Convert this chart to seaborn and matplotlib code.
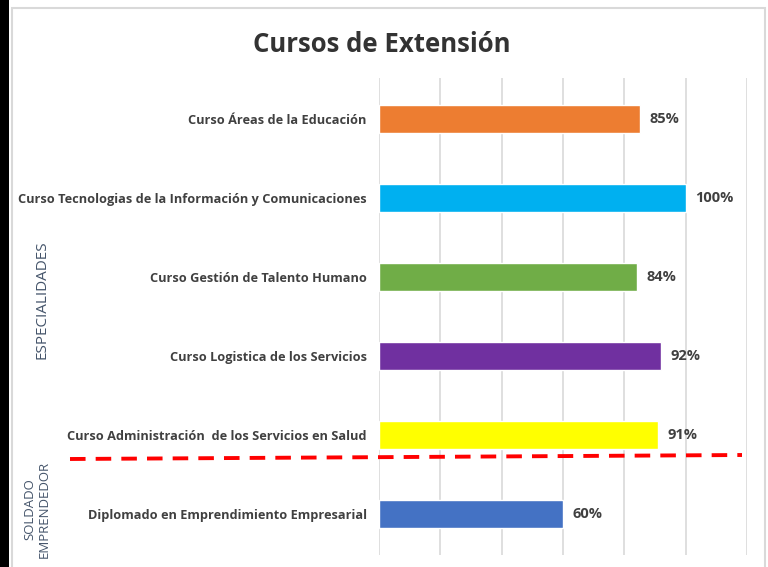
import matplotlib
matplotlib.use("Agg")
import matplotlib.pyplot as plt
import seaborn as sns
import pandas as pd
from matplotlib.lines import Line2D
from matplotlib.patches import Rectangle

# Data
cursos = [
    "Curso Áreas de la Educación",
    "Curso Tecnologias de la Información y Comunicaciones",
    "Curso Gestión de Talento Humano",
    "Curso Logistica de los Servicios",
    "Curso Administración  de los Servicios en Salud",
    "Diplomado en Emprendimiento Empresarial",
]
porcentajes = [85, 100, 84, 92, 91, 60]
colores = ["#ED7D31", "#00B0F0", "#70AD47", "#7030A0", "#FFFF00", "#4472C4"]

df = pd.DataFrame({"curso": cursos, "pct": porcentajes})

sns.set_theme(style="white")
plt.rcParams["font.family"] = ["Open Sans", "DejaVu Sans"]

fig = plt.figure(figsize=(7.68, 5.67), dpi=100)
fig.patch.set_facecolor("white")

# outer frame: black strip on the left and light gray chart border
fig.patches.append(Rectangle((0, 0), 9 / 768, 1, transform=fig.transFigure,
                             facecolor="black", edgecolor="none", zorder=0))
fig.patches.append(Rectangle((12 / 768, -0.05), (765 - 12) / 768, 1.05 - 8 / 567,
                             transform=fig.transFigure, facecolor="none",
                             edgecolor="#D9D9D9", linewidth=1.5, zorder=0))

ax = fig.add_axes([379 / 768, 1 - 555 / 567, (747 - 379) / 768, (555 - 78) / 567])
sns.barplot(data=df, x="pct", y="curso", hue="curso", palette=colores,
            legend=False, width=0.36, ax=ax, saturation=1)

ax.set_xlim(0, 120)
ax.set_ylim(5.52, -0.52)
ax.set_xticks(range(0, 121, 20))
ax.set_xticklabels([])
ax.tick_params(axis="x", length=0)
ax.tick_params(axis="y", length=0, pad=9)
ax.grid(axis="x", color="#D9D9D9", linewidth=1.2)
ax.set_axisbelow(True)
for s in ax.spines.values():
    s.set_visible(False)
ax.set_xlabel("")
ax.set_ylabel("")
for lbl in ax.get_yticklabels():
    lbl.set_fontsize(9.2)
    lbl.set_fontweight("bold")
    lbl.set_color("#404040")

for i, v in enumerate(porcentajes):
    ax.text(v + 3.2, i, f"{v}%", va="center", ha="left", fontsize=10.5,
            fontweight="bold", color="#404040")

fig.text(382 / 768, 1 - 45 / 567, "Cursos de Extensión", ha="center", va="center",
         fontsize=18.5, fontweight="bold", color="#333333")

# group labels
fig.text(42 / 768, 1 - 300 / 567, "ESPECIALIDADES", rotation=90, ha="center",
         va="center", fontsize=11, color="#44546A")
fig.text(37 / 768, 1 - 509 / 567, "SOLDADO\nEMPRENDEDOR", rotation=90, ha="center",
         va="center", fontsize=9.5, color="#44546A", linespacing=1.1)

# red dashed separator
fig.lines.append(Line2D([70 / 768, 742 / 768], [1 - 459 / 567, 1 - 455 / 567],
                        transform=fig.transFigure, color="#FF0000",
                        linewidth=2.8, linestyle=(0, (4, 2.6))))

fig.savefig("out.png", dpi=100)
